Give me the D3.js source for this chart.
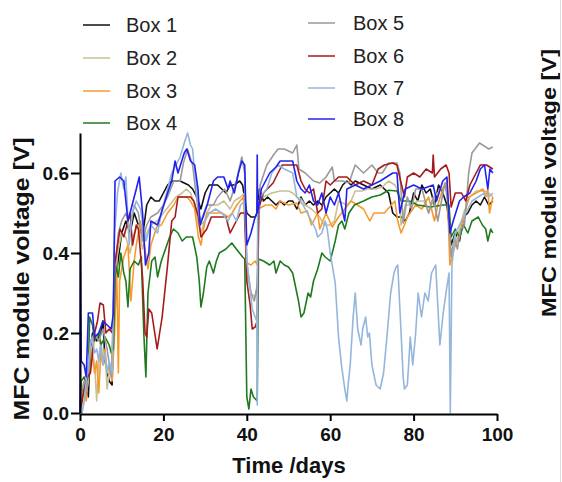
<!DOCTYPE html>
<html><head><meta charset="utf-8">
<script src="https://cdn.jsdelivr.net/npm/d3@7"></script>
<style>body{margin:0;background:#fff}svg{display:block}</style>
</head><body><svg id="c" width="562" height="482"></svg>
<script>
const seriesNames = ["Box 1","Box 2","Box 3","Box 4","Box 5","Box 6","Box 7","Box 8"];
const seriesColors = ["#111111","#c9c095","#f79a2e","#1f7a1f","#9a9a9a","#a51a1a","#94b6dc","#2222f0"];
const xTicks = [0,20,40,60,80,100];
const yTicks = [0.0,0.2,0.4,0.6];
const yTickLabels = ["0.0","0.2","0.4","0.6"];

const box1 = [[0,0.02],[0.5,0.06],[1,0.05],[1.5,0.08],[2,0.04],[2.5,0.16],[3,0.2],[4,0.18],[5,0.2],[5.5,0.23],[6,0.13],[7,0.08],[7.7,0.07],[8.2,0.3],[9,0.37],[10,0.45],[11,0.48],[12,0.45],[13,0.5],[14,0.47],[15,0.44],[16,0.52],[17,0.54],[18,0.53],[19,0.53],[20,0.55],[21,0.57],[22,0.58],[23,0.58],[24,0.58],[25,0.575],[26,0.57],[27,0.56],[28,0.54],[29,0.51],[30,0.55],[31,0.57],[32,0.57],[33,0.57],[34,0.56],[35,0.55],[36,0.57],[37,0.57],[38.3,0.58],[39,0.57],[40,0.5],[41,0.49],[42,0.49],[42.6,0.5],[43,0.56],[44,0.53],[45,0.54],[46,0.53],[47,0.52],[48,0.53],[49,0.52],[50,0.53],[51,0.53],[52,0.51],[53,0.54],[54,0.52],[55,0.53],[56,0.52],[57,0.53],[58,0.52],[59,0.54],[60,0.55],[61,0.56],[62,0.55],[63,0.57],[64,0.58],[65,0.57],[66,0.58],[68,0.57],[70,0.56],[72,0.57],[74,0.55],[75,0.5],[76,0.49],[77,0.49],[78,0.48],[79,0.5],[80,0.55],[81,0.53],[82,0.57],[83,0.55],[84,0.56],[85,0.52],[86,0.57],[87,0.55],[88,0.52],[89,0.42],[90,0.45],[91,0.43],[92,0.49],[93,0.5],[94,0.52],[95,0.53],[96,0.52],[97,0.54],[98,0.52],[99,0.53]];
const box2 = [[0,0.0],[0.5,0.02],[1,0.07],[1.5,0.05],[2,0.08],[2.5,0.17],[3,0.15],[3.5,0.12],[4,0.03],[4.5,0.14],[5,0.18],[5.5,0.13],[6,0.15],[6.5,0.06],[7,0.1],[7.7,0.12],[8.3,0.3],[9,0.4],[10,0.45],[11,0.44],[12,0.4],[13,0.45],[14,0.47],[15,0.41],[16,0.45],[17,0.47],[18.5,0.48],[20,0.5],[21.5,0.52],[23,0.54],[24.5,0.55],[25.5,0.56],[26.5,0.55],[27.5,0.52],[28.4,0.47],[29,0.45],[30.4,0.5],[31.5,0.52],[33,0.52],[34.5,0.53],[36,0.51],[37,0.53],[38.5,0.54],[39.5,0.55],[40,0.35],[41,0.3],[42,0.29],[42.5,0.31],[42.8,0.53],[44,0.54],[46,0.55],[48,0.555],[50,0.555],[51,0.55],[52,0.54],[53,0.535],[54,0.52],[55.5,0.51],[56.5,0.5],[57.5,0.49],[58.5,0.47],[60,0.47],[61,0.48],[62,0.53],[64,0.52],[65,0.53],[66,0.555],[67.5,0.555],[69,0.56],[71,0.56],[72.5,0.565],[74,0.58],[75.5,0.57],[76.5,0.55],[77,0.47],[78,0.52],[79.5,0.52],[81,0.53],[82.5,0.53],[83.6,0.5],[85,0.54],[86.5,0.56],[88,0.57],[89,0.39],[90.5,0.44],[92,0.5],[93.5,0.54],[95,0.555],[97,0.555],[98,0.55],[99,0.54]];
const box3 = [[0,0.0],[0.5,0.04],[1,0.06],[1.5,0.03],[2,0.1],[2.5,0.16],[3,0.14],[3.5,0.1],[4,0.13],[4.5,0.05],[5,0.15],[5.5,0.12],[6,0.16],[6.5,0.1],[7,0.12],[7.7,0.08],[8.3,0.2],[8.8,0.37],[9.2,0.1],[9.5,0.33],[10.5,0.39],[11.5,0.42],[12.2,0.28],[13,0.38],[13.5,0.42],[14.5,0.48],[15.3,0.43],[16.3,0.36],[17,0.42],[18.4,0.465],[19.5,0.47],[21,0.5],[22.5,0.52],[23.5,0.54],[25.6,0.54],[26.5,0.53],[27.5,0.51],[28.4,0.44],[29,0.42],[29.8,0.47],[30.5,0.5],[32,0.5],[34,0.5],[35.5,0.49],[36.5,0.5],[37.6,0.52],[39.2,0.54],[40,0.375],[41,0.37],[42,0.38],[42.5,0.37],[42.8,0.51],[44.5,0.52],[46,0.52],[47,0.51],[48,0.53],[50,0.52],[52,0.525],[53,0.5],[54.5,0.505],[55.5,0.47],[57,0.5],[57.5,0.46],[59,0.5],[60.5,0.465],[62,0.49],[63.5,0.51],[65,0.53],[66.5,0.52],[68,0.51],[69.5,0.48],[70.5,0.5],[72,0.5],[73,0.5],[75.5,0.53],[76.2,0.48],[77,0.45],[77.8,0.47],[78.5,0.49],[80.5,0.52],[82,0.51],[83.6,0.54],[85,0.48],[85.8,0.52],[87,0.56],[88,0.58],[88.7,0.37],[90,0.42],[91,0.44],[91.9,0.48],[93.2,0.54],[95,0.55],[96.6,0.56],[97.3,0.54],[97.8,0.56],[98.2,0.5],[99,0.54]];
const box4 = [[0,0.0],[0.3,0.08],[1,0.09],[1.5,0.07],[2,0.1],[2.3,0.24],[3,0.22],[3.5,0.18],[4.5,0.2],[5,0.17],[6,0.19],[7,0.17],[7.5,0.15],[8,0.16],[8.5,0.37],[9.2,0.34],[9.8,0.4],[10.5,0.35],[11,0.33],[11.5,0.265],[12,0.36],[13,0.38],[14,0.37],[14.7,0.39],[15.3,0.2],[15.8,0.09],[16.3,0.3],[17.2,0.38],[18,0.39],[18.6,0.34],[19.5,0.38],[20.5,0.41],[21.5,0.44],[22.4,0.46],[23.5,0.45],[24.5,0.43],[25.5,0.44],[27,0.44],[28,0.39],[28.6,0.33],[29,0.265],[29.6,0.3],[30.4,0.365],[31,0.38],[32,0.35],[32.7,0.38],[33.4,0.4],[35,0.41],[36.4,0.425],[37.5,0.41],[39,0.39],[39.5,0.385],[40,0.04],[40.5,0.01],[41,0.06],[41.6,0.04],[42.5,0.03],[42.8,0.385],[44,0.38],[45.5,0.37],[46.5,0.38],[47,0.35],[48,0.38],[49,0.37],[50,0.365],[51,0.35],[52.4,0.28],[53,0.24],[53.7,0.25],[54.7,0.3],[55.3,0.29],[56,0.33],[57,0.36],[58,0.4],[58.8,0.39],[60,0.38],[61.2,0.43],[62,0.47],[62.8,0.48],[63.5,0.46],[64.5,0.5],[65.8,0.52],[68,0.53],[70,0.54],[72,0.545],[74,0.557],[76,0.555],[77,0.53],[79,0.53],[81,0.52],[84,0.515],[87,0.52],[88.5,0.52],[89,0.44],[90,0.46],[91,0.44],[92,0.47],[93,0.45],[94,0.48],[95.5,0.49],[96.5,0.47],[97.3,0.46],[97.8,0.43],[98.5,0.46],[99,0.45]];
const box5 = [[0,0.0],[0.5,0.06],[1,0.08],[1.5,0.05],[2,0.1],[2.5,0.18],[3.5,0.2],[4.5,0.18],[5.5,0.21],[6.5,0.16],[7.5,0.09],[8.3,0.35],[9.2,0.45],[10,0.48],[11,0.5],[12,0.46],[13,0.52],[14,0.5],[15,0.43],[16,0.47],[17,0.49],[18.6,0.5],[20,0.52],[21,0.54],[22.5,0.58],[24,0.58],[24.8,0.625],[25.8,0.66],[27,0.62],[27.8,0.55],[28.4,0.5],[29,0.48],[30.4,0.52],[32,0.52],[33,0.54],[34.7,0.56],[36,0.53],[37.5,0.58],[38.8,0.64],[39.5,0.6],[40,0.375],[41,0.3],[41.8,0.28],[42.5,0.32],[43.2,0.57],[44.8,0.62],[46.4,0.645],[47.5,0.66],[49,0.66],[51,0.65],[52,0.67],[52.5,0.61],[54,0.6],[56,0.58],[57.5,0.575],[59,0.59],[60.5,0.615],[61,0.58],[63,0.58],[64.5,0.575],[66,0.62],[68,0.6],[70,0.62],[71.5,0.6],[72.5,0.6],[74,0.625],[76,0.625],[76.7,0.6],[77.5,0.475],[78.5,0.54],[79.5,0.51],[80.5,0.56],[82,0.56],[83.6,0.5],[84.7,0.54],[85.8,0.48],[86.5,0.52],[87.5,0.575],[88.3,0.52],[89,0.39],[89.8,0.44],[90.5,0.41],[91.3,0.46],[92.2,0.47],[93.2,0.6],[94,0.65],[95.8,0.675],[97.3,0.665],[98,0.66],[99,0.665]];
const box6 = [[0,0.01],[0.5,0.03],[1,0.06],[1.8,0.09],[2.5,0.1],[3.5,0.2],[4.2,0.23],[4.8,0.275],[5.6,0.27],[6.2,0.2],[7,0.21],[7.8,0.2],[8.3,0.37],[9,0.42],[9.6,0.46],[10.5,0.44],[11,0.46],[12,0.5],[12.6,0.42],[13.5,0.47],[14,0.46],[15,0.34],[15.6,0.2],[16,0.19],[16.5,0.26],[17.2,0.25],[18.5,0.16],[19.7,0.24],[21,0.37],[22,0.48],[22.8,0.49],[23.5,0.54],[25,0.54],[26.5,0.54],[27.3,0.53],[28.4,0.49],[29,0.44],[30.4,0.46],[31.5,0.49],[33,0.49],[35,0.49],[36,0.45],[37,0.47],[38.5,0.5],[39.5,0.5],[40,0.33],[40.8,0.27],[41.3,0.21],[42,0.215],[42.5,0.23],[42.8,0.51],[44,0.55],[46.3,0.575],[47.5,0.6],[48.5,0.62],[50,0.62],[52,0.62],[53,0.58],[54,0.56],[55,0.55],[56,0.56],[57,0.5],[58,0.51],[59,0.58],[60,0.57],[62,0.59],[64,0.59],[66,0.57],[68,0.58],[70,0.57],[71.5,0.61],[73,0.62],[75,0.625],[76,0.62],[77,0.575],[77.8,0.54],[78.5,0.59],[80,0.6],[81.5,0.59],[83,0.61],[84.5,0.6],[84.7,0.645],[85,0.59],[86.5,0.61],[87.8,0.62],[88.5,0.6],[89,0.515],[90,0.55],[91.5,0.55],[92.5,0.53],[93.5,0.57],[95,0.6],[96,0.62],[97.5,0.62],[99,0.61]];
const box7 = [[0,0.0],[0.5,0.0],[1,0.03],[1.5,0.08],[2,0.12],[2.5,0.17],[3,0.19],[3.5,0.15],[4,0.16],[4.5,0.13],[5,0.17],[5.5,0.12],[6,0.15],[6.5,0.1],[7,0.13],[7.7,0.1],[8.3,0.45],[9,0.55],[9.8,0.6],[10.5,0.56],[11,0.59],[11.8,0.42],[12.5,0.5],[13.5,0.53],[14.5,0.51],[15.8,0.43],[17,0.47],[18.6,0.45],[19.5,0.5],[21,0.56],[22,0.6],[23,0.62],[24,0.64],[25,0.675],[25.8,0.7],[26.5,0.67],[27,0.66],[27.5,0.6],[28.2,0.54],[28.8,0.47],[30,0.48],[31,0.5],[32.5,0.51],[34,0.5],[35.5,0.48],[36.5,0.5],[37.5,0.48],[38.5,0.52],[39.5,0.53],[40,0.38],[40.8,0.31],[41.3,0.26],[42,0.24],[42.4,0.23],[42.5,0.02],[42.6,0.5],[43.2,0.54],[44.8,0.56],[46,0.6],[47.5,0.62],[49,0.61],[51,0.6],[52,0.54],[53.5,0.52],[55,0.49],[56.5,0.46],[57,0.44],[58,0.45],[58.8,0.48],[59.3,0.46],[60,0.4],[61.2,0.325],[62,0.19],[62.7,0.12],[63.5,0.06],[64,0.03],[64.3,0.07],[64.8,0.12],[65.5,0.24],[66,0.3],[66.6,0.21],[67.4,0.17],[67.8,0.21],[68.5,0.24],[69,0.19],[69.4,0.2],[70,0.12],[71,0.07],[72,0.06],[72.8,0.1],[73.6,0.19],[74.5,0.3],[75.3,0.35],[75.8,0.365],[76.2,0.37],[77,0.2],[77.5,0.09],[77.8,0.06],[78.5,0.07],[78.8,0.12],[79.2,0.19],[79.8,0.12],[80.5,0.2],[81.1,0.3],[81.9,0.24],[82.7,0.3],[83.5,0.28],[84.3,0.35],[85.3,0.37],[86.3,0.17],[87.1,0.25],[87.9,0.31],[88.5,0.35],[88.8,0.0],[89.2,0.37],[90,0.45],[91,0.47],[92.5,0.5],[94,0.53],[95.5,0.54],[97,0.55],[98,0.54],[99,0.55]];
const box8 = [[0,0],[0.1,0.4],[0.3,0.13],[1,0.12],[1.5,0.09],[2,0.25],[3,0.25],[3.5,0.19],[4.5,0.2],[5.5,0.23],[6.5,0.22],[7.5,0.21],[8,0.25],[8.4,0.58],[9.5,0.59],[10.5,0.58],[11.5,0.48],[12.5,0.52],[13.5,0.56],[14.2,0.59],[15,0.5],[15.7,0.37],[16.5,0.4],[17,0.48],[18.6,0.47],[19.5,0.5],[21,0.55],[22,0.58],[22.8,0.63],[23.5,0.6],[25,0.65],[25.6,0.66],[26.5,0.63],[27.5,0.62],[28.3,0.56],[28.8,0.47],[29.5,0.49],[30.5,0.52],[32,0.58],[33,0.59],[34.5,0.59],[35.5,0.56],[36,0.58],[37,0.55],[38,0.6],[38.8,0.63],[39.5,0.62],[40,0.42],[41,0.45],[42,0.49],[42.4,0.5],[42.5,0.645],[42.6,0.5],[43.5,0.56],[45.5,0.6],[47,0.615],[48,0.63],[51,0.63],[52,0.58],[53,0.56],[54,0.55],[55,0.57],[56,0.53],[57,0.52],[58,0.55],[59,0.5],[60,0.54],[61,0.52],[62,0.55],[63.5,0.48],[64,0.56],[66,0.57],[68,0.56],[70,0.57],[72,0.58],[73.5,0.59],[75,0.6],[76,0.6],[76.7,0.5],[78,0.56],[80,0.57],[82,0.56],[84.7,0.57],[85.5,0.53],[87,0.58],[88,0.59],[88.7,0.45],[89.5,0.48],[91,0.53],[92,0.54],[93.5,0.55],[95,0.58],[96,0.61],[97,0.62],[97.8,0.56],[98.3,0.61],[99,0.6]];
const seriesData = [box1,box2,box3,box4,box5,box6,box7,box8];

const FONT = "Liberation Sans, Arial, sans-serif";
const svg = d3.select("#c");
const x = d3.scaleLinear().domain([0,100]).range([80,497]);
const y = d3.scaleLinear().domain([0,0.7]).range([413,133]);

const line = d3.line().x(d=>x(d[0])).y(d=>y(d[1]));
const g = svg.append("g");
seriesData.forEach((s,i)=>{
  g.append("path").datum(s).attr("d",line).attr("fill","none")
   .attr("stroke",seriesColors[i]).attr("stroke-width",1.6).attr("stroke-linejoin","round");
});

const xa = svg.append("g").attr("transform","translate(0,414)")
  .call(d3.axisBottom(x).tickValues(xTicks).tickSize(7).tickSizeOuter(0).tickPadding(7));
const ya = svg.append("g").attr("transform","translate(80,0)")
  .call(d3.axisLeft(y).tickValues(yTicks).tickFormat((d,i)=>yTickLabels[i]).tickSize(9).tickSizeOuter(0).tickPadding(2));
[xa,ya].forEach(a=>{
  a.selectAll("path,line").attr("stroke","#000").attr("stroke-width",2);
  a.selectAll("text").attr("font-family",FONT).attr("font-weight","bold").attr("font-size",19).attr("fill","#111");
});

svg.append("text").attr("x",289).attr("y",473).attr("text-anchor","middle")
  .attr("font-family",FONT).attr("font-weight","bold").attr("font-size",22).attr("fill","#111").text("Time /days");
svg.append("text").attr("transform","translate(29,279) rotate(-90)").attr("text-anchor","middle")
  .attr("textLength",283).attr("lengthAdjust","spacingAndGlyphs")
  .attr("font-family",FONT).attr("font-weight","bold").attr("font-size",22).attr("fill","#111").text("MFC module voltage [V]");
svg.append("text").attr("transform","translate(556,183) rotate(-90)").attr("text-anchor","middle")
  .attr("textLength",268).attr("lengthAdjust","spacingAndGlyphs")
  .attr("font-family",FONT).attr("font-weight","bold").attr("font-size",20).attr("fill","#111").text("MFC module voltage [V]");
svg.append("line").attr("x1",560.5).attr("x2",560.5).attr("y1",0).attr("y2",482).attr("stroke","#ddd").attr("stroke-width",1);

const legRows = [25,58,91,123,23,56,88,119];
seriesNames.forEach((n,i)=>{
  const col = i<4?0:1;
  const lx = col===0?83:308;
  const ly = legRows[i];
  svg.append("line").attr("x1",lx).attr("x2",lx+27).attr("y1",ly).attr("y2",ly)
    .attr("stroke",seriesColors[i]).attr("stroke-width",1.5);
  svg.append("text").attr("x",col===0?126:353).attr("y",ly+7)
    .attr("font-family",FONT).attr("font-size",20).attr("fill","#222").text(n);
});
</script></body></html>
